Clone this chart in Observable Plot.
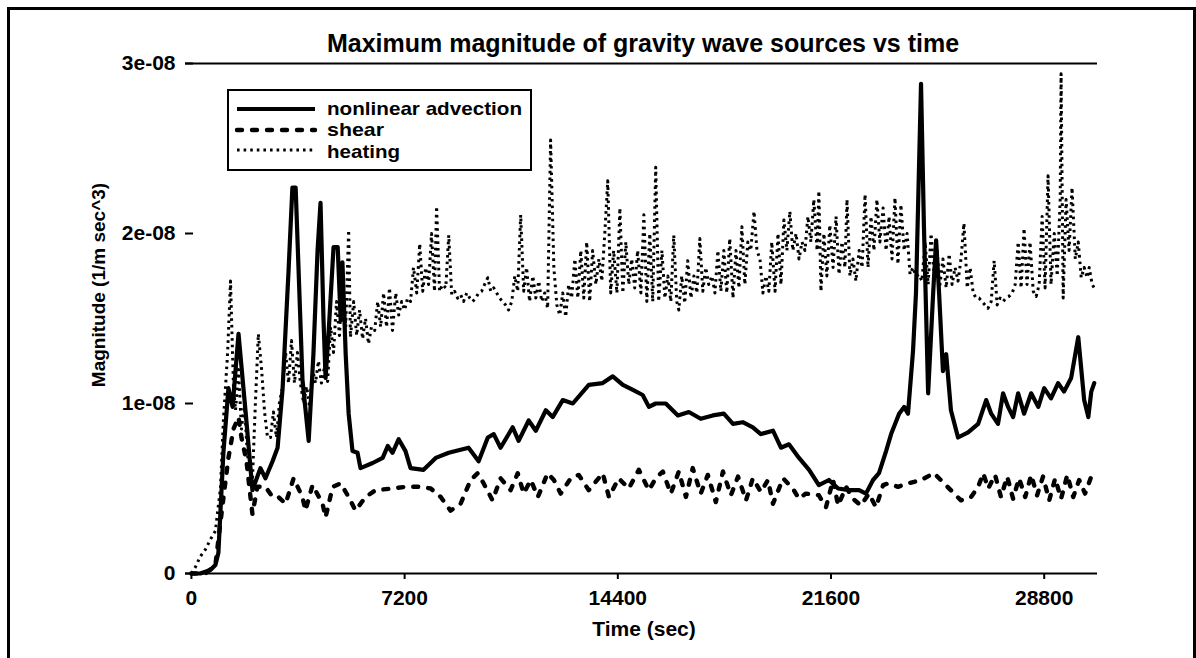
<!DOCTYPE html>
<html>
<head>
<meta charset="utf-8">
<script src="https://cdn.jsdelivr.net/npm/d3@7"></script>
<script src="https://cdn.jsdelivr.net/npm/@observablehq/plot@0.6"></script>
<style>
  html, body { margin: 0; padding: 0; background: #fff; }
  #wrap { position: relative; width: 1196px; height: 658px; overflow: hidden; background: #fff;
          font-family: "Liberation Sans", Arial, Helvetica, sans-serif; font-weight: bold; color: #000; }
  #wrap > svg.chart { position: absolute; left: 0; top: 0; }
  #border { position: absolute; left: 7px; top: 7px; width: 1189px; height: 720px; border: 3px solid #000; box-sizing: border-box; }
  #title { position: absolute; left: 0; width: 1286px; top: 31px; text-align: center; font-size: 25px; line-height: 1; white-space: nowrap; }
  #ylabel { position: absolute; left: 98px; top: 285px; transform: translate(-50%, -50%) rotate(-90deg); font-size: 19px; line-height: 1; white-space: nowrap; }
  #xlabel { position: absolute; left: 0; width: 1288px; top: 618px; text-align: center; font-size: 21px; line-height: 1; white-space: nowrap; }
</style>
</head>
<body>
<div id="wrap">
  <div id="border"></div>
  <div id="title">Maximum magnitude of gravity wave sources vs time</div>
  <div id="ylabel">Magnitude (1/m sec^3)</div>
  <div id="xlabel">Time (sec)</div>
</div>
<script>
// ---- data (time in seconds, magnitudes in units of 1e-08 1/(m sec^3)) ----
const seriesNames = ["nonlinear advection", "shear", "heating"];
const xTicks = [0, 7200, 14400, 21600, 28800];
const xTickLabels = ["0", "7200", "14400", "21600", "28800"];
const yTicks = [0, 1e-8, 2e-8, 3e-8];
const yTickLabels = ["0", "1e-08", "2e-08", "3e-08"];

const advTime = [0,300,640,810,910,1080,1250,1390,1590,1830,2060,2330,2500,2740,2910,3080,3280,3410,3520,3750,3960,4120,4260,4360,4460,4530,4630,4800,4940,5040,5100,5210,5310,5440,5610,5710,6120,6460,6630,6790,7000,7230,7400,7840,8250,8690,9360,9700,10010,10210,10440,10850,11050,11390,11630,11970,12200,12540,12880,13420,13890,14230,14570,14910,15240,15450,15680,16020,16430,16800,17200,17610,17980,18290,18620,18960,19230,19640,19910,20180,20520,20860,21190,21530,21840,22210,22550,22780,23020,23220,23460,23630,23900,24070,24200,24370,24470,24640,24740,24880,25050,25150,25250,25380,25490,25650,25890,26230,26570,26840,27010,27240,27410,27580,27750,27920,28120,28360,28600,28800,29030,29270,29470,29710,29950,30150,30290,30390,30490];
const advValue = [0,0,0.02,0.05,0.12,0.71,1.09,0.98,1.41,0.95,0.49,0.62,0.56,0.66,0.74,1.09,1.78,2.27,2.27,1.14,0.78,1.29,1.9,2.18,1.5,1.15,1.41,1.92,1.92,1.49,1.83,1.29,0.94,0.72,0.71,0.62,0.65,0.68,0.75,0.71,0.79,0.72,0.62,0.61,0.68,0.71,0.74,0.66,0.8,0.82,0.74,0.86,0.78,0.9,0.84,0.96,0.92,1.02,1.0,1.11,1.12,1.16,1.11,1.08,1.05,0.98,1.0,1.0,0.93,0.95,0.91,0.93,0.94,0.88,0.89,0.86,0.82,0.84,0.74,0.76,0.68,0.61,0.52,0.55,0.5,0.49,0.49,0.47,0.55,0.59,0.72,0.82,0.94,0.98,0.94,1.31,1.65,2.88,2.03,1.06,1.65,1.96,1.65,1.19,1.29,0.96,0.8,0.83,0.88,1.02,0.94,0.88,1.06,0.98,0.92,1.06,0.94,1.06,0.98,1.09,1.03,1.12,1.07,1.15,1.39,1.02,0.92,1.07,1.12];

const shearTime = [0,470,810,980,1120,1250,1420,1590,1690,1860,2060,2230,2500,2740,2940,3180,3450,3750,3850,4090,4430,4530,4770,5040,5310,5540,5880,6220,6790,7230,7740,8080,8420,8750,9090,9430,9670,9870,10170,10440,10780,11020,11220,11460,11700,12030,12240,12470,12810,13080,13420,13890,14100,14430,14770,15110,15450,15680,15920,16190,16460,16700,16930,17200,17440,17710,17950,18220,18460,18730,18960,19230,19470,19640,19980,20310,20520,20750,21190,21430,21670,21840,22110,22340,22610,22880,23120,23360,23530,23860,24200,24640,25080,25420,25760,25990,26330,26570,26740,26910,27140,27340,27550,27750,27950,28160,28360,28560,28760,28970,29170,29370,29580,29780,29980,30180,30390,30490];
const shearValue = [0,0,0.05,0.3,0.5,0.68,0.85,0.92,0.8,0.66,0.35,0.51,0.51,0.45,0.45,0.41,0.56,0.45,0.37,0.52,0.41,0.33,0.51,0.53,0.45,0.37,0.45,0.49,0.5,0.51,0.51,0.5,0.45,0.37,0.41,0.55,0.59,0.53,0.43,0.56,0.49,0.59,0.47,0.55,0.45,0.59,0.55,0.47,0.56,0.58,0.49,0.59,0.45,0.56,0.5,0.61,0.49,0.56,0.6,0.47,0.6,0.45,0.62,0.47,0.58,0.42,0.6,0.46,0.57,0.43,0.56,0.48,0.55,0.41,0.56,0.5,0.44,0.47,0.46,0.39,0.55,0.4,0.51,0.44,0.4,0.47,0.39,0.52,0.53,0.51,0.53,0.55,0.59,0.53,0.47,0.43,0.45,0.51,0.59,0.5,0.58,0.45,0.57,0.44,0.56,0.45,0.58,0.46,0.57,0.43,0.56,0.44,0.58,0.45,0.55,0.47,0.57,0.59];

const heatTime = [0,140,300,470,640,810,910,980,1080,1220,1320,1420,1490,1590,1690,1790,1890,1990,2060,2160,2260,2370,2470,2570,2670,2770,2870,2970,3080,3180,3280,3380,3480,3580,3680,3790,3890,3990,4090,4190,4290,4390,4500,4600,4700,4800,4900,5000,5100,5210,5310,5370,5480,5580,5680,5780,5880,5980,6080,6190,6290,6390,6490,6590,6690,6790,6900,7000,7100,7200,7300,7400,7500,7610,7710,7810,7910,8010,8110,8210,8280,8380,8480,8590,8690,8790,8890,8990,9090,9190,9300,9400,9500,9600,9700,9800,9900,10010,10110,10210,10310,10410,10510,10610,10710,10820,10920,11020,11120,11220,11320,11420,11530,11630,11730,11830,11930,12030,12130,12240,12340,12440,12540,12640,12740,12840,12950,13050,13150,13250,13350,13450,13550,13660,13760,13860,13960,14060,14160,14260,14370,14470,14570,14670,14770,14870,14970,15070,15180,15280,15380,15480,15580,15680,15780,15890,15990,16090,16190,16290,16390,16460,16560,16660,16760,16870,16970,17070,17170,17270,17370,17470,17580,17680,17780,17880,17980,18080,18180,18290,18390,18490,18590,18690,18790,18890,19000,19100,19200,19300,19400,19500,19600,19710,19810,19910,20010,20110,20210,20310,20420,20520,20620,20720,20820,20920,21020,21130,21190,21260,21360,21460,21560,21670,21770,21870,21970,22070,22140,22240,22340,22440,22550,22650,22750,22850,22950,23050,23150,23250,23360,23460,23560,23660,23760,23860,23960,24070,24170,24270,24370,24470,24570,24670,24780,24880,24980,25080,25180,25280,25380,25490,25590,25690,25790,25890,25990,26090,26200,26300,26400,26500,26600,26700,26800,26900,27010,27110,27210,27310,27410,27510,27610,27720,27820,27920,28020,28120,28220,28320,28430,28530,28630,28730,28830,28930,29030,29140,29240,29340,29370,29440,29540,29640,29740,29850,29950,30050,30150,30250,30320,30420,30490];
const heatValue = [0,0.04,0.1,0.14,0.2,0.25,0.4,0.5,0.9,1.29,1.72,1.1,0.96,1.2,0.85,1.0,0.7,0.6,0.55,1.0,1.41,1.2,0.95,0.8,0.8,0.95,0.8,1.0,1.1,1.3,1.12,1.37,1.12,1.3,1.12,1.0,1.1,0.98,1.2,1.12,1.25,1.12,1.22,1.13,1.45,1.3,1.6,1.4,1.75,1.45,2.02,1.39,1.6,1.4,1.55,1.38,1.5,1.35,1.45,1.43,1.6,1.45,1.65,1.45,1.68,1.43,1.65,1.52,1.6,1.55,1.62,1.6,1.8,1.65,1.94,1.66,1.8,1.7,2.0,1.66,2.16,1.66,1.7,1.68,1.99,1.64,1.66,1.62,1.64,1.6,1.65,1.62,1.6,1.62,1.65,1.66,1.7,1.74,1.66,1.68,1.65,1.62,1.6,1.58,1.55,1.6,1.75,1.66,2.11,1.66,1.8,1.6,1.75,1.62,1.72,1.6,1.65,1.56,2.55,1.8,1.58,1.52,1.65,1.51,1.7,1.62,1.85,1.62,1.9,1.62,1.95,1.6,1.9,1.7,1.85,1.72,2.0,2.31,1.65,1.9,1.65,2.15,1.65,1.95,1.7,1.85,1.68,1.9,1.65,2.11,1.6,2.0,1.6,2.39,1.6,1.9,1.62,1.75,1.6,1.99,1.6,1.55,1.75,1.59,1.84,1.62,1.75,1.65,1.97,1.66,1.8,1.7,1.75,1.65,1.9,1.66,1.9,1.65,1.97,1.62,1.9,1.68,2.04,1.7,1.95,1.9,2.13,1.9,1.85,1.65,1.75,1.66,1.95,1.66,2.0,1.7,2.08,1.9,2.13,1.9,2.0,1.85,1.95,1.9,2.1,1.95,2.2,1.9,2.25,1.66,2.0,1.75,2.05,1.8,2.1,1.76,1.95,1.8,2.2,1.75,1.85,1.72,1.9,1.8,2.23,1.8,2.1,1.9,2.2,1.95,2.15,1.9,2.1,1.85,2.21,1.82,2.17,1.9,2.0,1.76,1.8,1.75,1.76,1.72,1.95,1.7,2.0,1.75,1.9,1.7,1.85,1.68,1.88,1.7,1.8,1.72,1.85,2.06,1.68,1.8,1.65,1.62,1.62,1.6,1.58,1.56,1.6,1.84,1.58,1.62,1.6,1.62,1.63,1.65,1.7,1.95,1.68,2.03,1.7,1.95,1.66,1.63,1.7,2.1,1.68,2.34,1.7,2.0,1.75,2.2,2.94,1.62,2.2,1.9,2.27,1.85,1.95,1.74,1.8,1.74,1.8,1.7,1.68];

const UNIT = 1e-8;
const rows = (times, values) => times.map((t, i) => ({ t, v: values[i] * UNIT }));
const adv = rows(advTime, advValue);
const shear = rows(shearTime, shearValue);
const heat = rows(heatTime, heatValue);

const styles = {
  "nonlinear advection": { strokeWidth: 4.2, dash: null, cap: "butt" },
  "shear": { strokeWidth: 4.4, dash: "5 10", cap: "round" },
  "heating": { strokeWidth: 3, dash: "2.6 4", cap: "butt" }
};

const chart = Plot.plot({
  width: 1196,
  height: 658,
  marginLeft: 185,
  marginRight: 99,
  marginTop: 63,
  marginBottom: 85,
  x: { domain: [-200, 30600] },
  y: { domain: [0, 3e-8] },
  style: { fontFamily: "'Liberation Sans', Arial, sans-serif", fontSize: "21px", fontWeight: "bold", background: "transparent", color: "#000", overflow: "visible" },
  marks: [
    Plot.ruleY([0, 3e-8], { stroke: "#000", strokeWidth: 2 }),
    Plot.axisX({ ticks: xTicks, tickFormat: d => xTickLabels[xTicks.indexOf(d)], tickSize: 6, tickPadding: 11, label: null, strokeWidth: 2 }),
    Plot.axisY({ ticks: yTicks, tickFormat: d => yTickLabels[yTicks.indexOf(d)], tickSize: 8, tickPadding: 10, dx: 8, label: null, strokeWidth: 2 }),
    Plot.line(heat, { x: "t", y: "v", stroke: "#000", strokeWidth: styles.heating.strokeWidth, strokeDasharray: styles.heating.dash, strokeLinecap: styles.heating.cap }),
    Plot.line(shear, { x: "t", y: "v", stroke: "#000", strokeWidth: styles.shear.strokeWidth, strokeDasharray: styles.shear.dash, strokeLinecap: styles.shear.cap }),
    Plot.line(adv, { x: "t", y: "v", stroke: "#000", strokeWidth: styles["nonlinear advection"].strokeWidth })
  ]
});
chart.classList.add("chart");
document.getElementById("wrap").insertBefore(chart, document.getElementById("border"));

// ---- legend ----
const leg = d3.create("svg").attr("id", "legend").attr("width", 306).attr("height", 83)
  .style("position", "absolute").style("left", "227px").style("top", "89px");
leg.append("rect").attr("x", 1).attr("y", 1).attr("width", 303).attr("height", 80)
  .attr("fill", "#fff").attr("stroke", "#000").attr("stroke-width", 2);
const rowLineY = [20, 41, 61];
const rowTextY = [25.5, 47, 68.5];
const rowTextLength = [195, 57, 73];
seriesNames.forEach((name, i) => {
  const s = styles[name];
  leg.append("line").attr("x1", 10).attr("x2", 88).attr("y1", rowLineY[i]).attr("y2", rowLineY[i])
    .attr("stroke", "#000").attr("stroke-width", s.strokeWidth)
    .attr("stroke-linecap", s.cap)
    .attr("stroke-dasharray", s.dash);
  leg.append("text").attr("x", 100).attr("y", rowTextY[i]).text(name)
    .attr("textLength", rowTextLength[i]).attr("lengthAdjust", "spacingAndGlyphs")
    .attr("font-family", "'Liberation Sans', Arial, sans-serif").attr("font-weight", "bold").attr("font-size", 18.5);
});
document.getElementById("wrap").appendChild(leg.node());
</script>
</body>
</html>
